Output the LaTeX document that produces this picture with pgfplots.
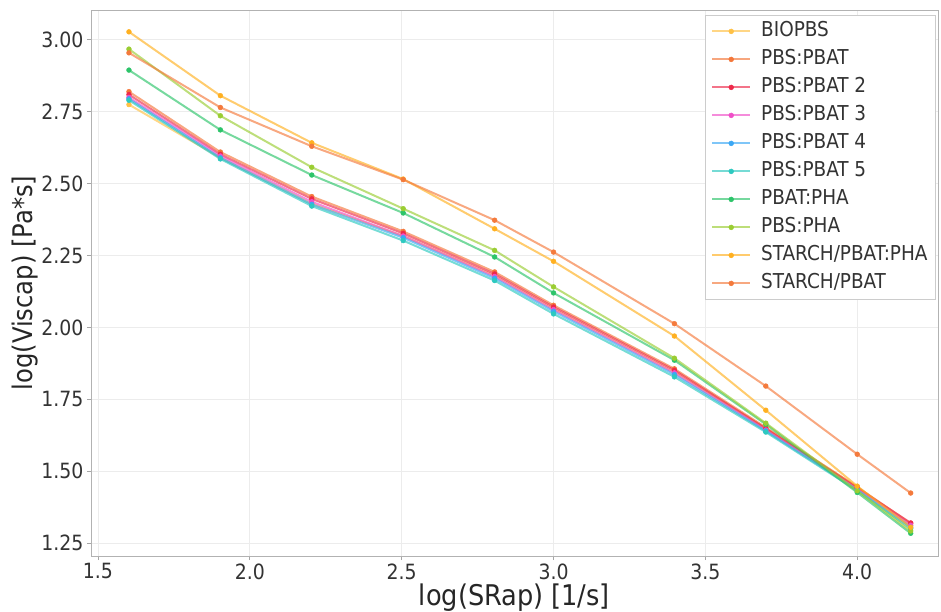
\documentclass[border=0pt]{standalone}
\usepackage{fontspec}
\setmainfont{DejaVu Sans Condensed}
\usepackage{pgfplots}
\pgfplotsset{compat=1.18}
\definecolor{cBIO}{HTML}{FFC145}
\definecolor{cPP1}{HTML}{F4773A}
\definecolor{cPP2}{HTML}{EE2A4A}
\definecolor{cPP3}{HTML}{F04FC8}
\definecolor{cPP4}{HTML}{3BA8F5}
\definecolor{cPP5}{HTML}{2DC9C0}
\definecolor{cPBATPHA}{HTML}{2DC46A}
\definecolor{cPBSPHA}{HTML}{9ACD32}
\definecolor{cSPP}{HTML}{FFB020}
\definecolor{cSP}{HTML}{F47A3C}
\begin{document}
\begin{tikzpicture}
\begin{axis}[
  scale only axis, width=847pt, height=546pt,
  xmin=1.477, xmax=4.266, ymin=1.205, ymax=3.104,
  xtick={1.5,2.0,2.5,3.0,3.5,4.0},
  ytick={1.25,1.5,1.75,2.0,2.25,2.5,2.75,3.0},
  xticklabel style={/pgf/number format/.cd,fixed,fixed zerofill,precision=1},
  yticklabel style={/pgf/number format/.cd,fixed,fixed zerofill,precision=2},
  /pgf/number format/assume math mode=true,
  tick label style={font=\fontsize{21}{25}\selectfont, text=black!80},
  tick align=outside, xtick pos=left, ytick pos=left,
  major tick length=4pt,
  tick style={gray!70, line width=0.8pt},
  axis line style={gray!60, line width=0.9pt},
  grid=major, major grid style={gray!15, line width=0.8pt},
  xlabel={log(SRap) [1/s]}, ylabel={log(Viscap) [Pa*s]},
  every axis x label/.style={at={(axis description cs:0.5,-0.077)}, anchor=center,
     font=\fontsize{28.5}{32}\selectfont, text=black!85},
  every axis y label/.style={at={(axis description cs:-0.078,0.5)}, anchor=center, rotate=90,
     font=\fontsize{27}{31}\selectfont, text=black!85},
  every axis plot/.append style={line width=2pt, draw opacity=0.65, mark=*, mark size=2.4pt,
     mark options={draw opacity=1, fill opacity=1, line width=0.5pt}},
  legend style={at={(rel axis cs:1,1)}, anchor=north east, xshift=-2pt, yshift=-5pt,
     draw=gray!40, line width=0.8pt, fill=white, font=\fontsize{20.5}{24}\selectfont,
     text=black!80, row sep=4pt, column sep=8pt, inner xsep=6pt, inner ysep=4pt,
     nodes={text height=15pt, text depth=5pt, inner sep=2pt}},
  legend cell align=left,
  legend image code/.code={\draw[mark repeat=2,mark phase=2] plot coordinates {(0pt,0pt) (19pt,0pt) (38pt,0pt)};},
]
\addplot[color=cBIO] coordinates {(1.602,2.775) (1.903,2.590) (2.204,2.430) (2.505,2.318) (2.806,2.180) (3.000,2.065) (3.398,1.845) (3.699,1.648) (4.000,1.445) (4.176,1.310)};
\addlegendentry{BIOPBS}
\addplot[color=cPP1] coordinates {(1.602,2.820) (1.903,2.610) (2.204,2.455) (2.505,2.334) (2.806,2.193) (3.000,2.077) (3.398,1.856) (3.699,1.652) (4.000,1.445) (4.176,1.318)};
\addlegendentry{PBS:PBAT}
\addplot[color=cPP2] coordinates {(1.602,2.810) (1.903,2.602) (2.204,2.447) (2.505,2.327) (2.806,2.186) (3.000,2.071) (3.398,1.851) (3.699,1.648) (4.000,1.442) (4.176,1.320)};
\addlegendentry{PBS:PBAT 2}
\addplot[color=cPP3] coordinates {(1.602,2.800) (1.903,2.596) (2.204,2.437) (2.505,2.318) (2.806,2.177) (3.000,2.062) (3.398,1.842) (3.699,1.643) (4.000,1.437) (4.176,1.312)};
\addlegendentry{PBS:PBAT 3}
\addplot[color=cPP4] coordinates {(1.602,2.795) (1.903,2.590) (2.204,2.428) (2.505,2.312) (2.806,2.171) (3.000,2.056) (3.398,1.836) (3.699,1.640) (4.000,1.435) (4.176,1.305)};
\addlegendentry{PBS:PBAT 4}
\addplot[color=cPP5] coordinates {(1.602,2.790) (1.903,2.586) (2.204,2.422) (2.505,2.302) (2.806,2.163) (3.000,2.047) (3.398,1.828) (3.699,1.636) (4.000,1.432) (4.176,1.300)};
\addlegendentry{PBS:PBAT 5}
\addplot[color=cPBATPHA] coordinates {(1.602,2.895) (1.903,2.687) (2.204,2.530) (2.505,2.398) (2.806,2.245) (3.000,2.120) (3.398,1.886) (3.699,1.663) (4.000,1.426) (4.176,1.284)};
\addlegendentry{PBAT:PHA}
\addplot[color=cPBSPHA] coordinates {(1.602,2.968) (1.903,2.736) (2.204,2.557) (2.505,2.413) (2.806,2.268) (3.000,2.141) (3.398,1.893) (3.699,1.667) (4.000,1.432) (4.176,1.292)};
\addlegendentry{PBS:PHA}
\addplot[color=cSPP] coordinates {(1.602,3.028) (1.903,2.806) (2.204,2.642) (2.505,2.516) (2.806,2.343) (3.000,2.230) (3.398,1.970) (3.699,1.712) (4.000,1.448) (4.176,1.305)};
\addlegendentry{STARCH/PBAT:PHA}
\addplot[color=cSP] coordinates {(1.602,2.955) (1.903,2.765) (2.204,2.630) (2.505,2.514) (2.806,2.373) (3.000,2.262) (3.398,2.013) (3.699,1.796) (4.000,1.559) (4.176,1.424)};
\addlegendentry{STARCH/PBAT}
\end{axis}
\pgfresetboundingbox
\path ([shift={(-91pt,-56pt)}]current axis.south west) rectangle ([shift={(3pt,10pt)}]current axis.north east);
\end{tikzpicture}
\end{document}
